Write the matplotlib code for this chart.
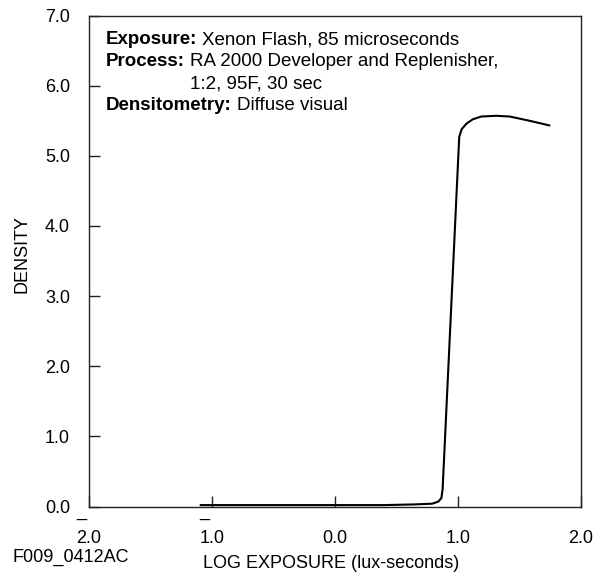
import matplotlib
matplotlib.use("Agg")
import matplotlib.pyplot as plt

# ---- data ----
log_exposure = [-1.10, -0.50, 0.00, 0.40, 0.65, 0.79, 0.84, 0.865, 0.875,
                1.01, 1.03, 1.07, 1.12, 1.19, 1.31, 1.42, 1.58, 1.75]
density = [0.02, 0.02, 0.02, 0.02, 0.03, 0.04, 0.07, 0.12, 0.25,
           5.27, 5.38, 5.46, 5.52, 5.56, 5.57, 5.56, 5.50, 5.43]

x_tick_values = [-2, -1, 0, 1, 2]
x_tick_labels = ["2.0", "1.0", "0.0", "1.0", "2.0"]
x_tick_negative = [True, True, False, False, False]
y_tick_values = [0, 1, 2, 3, 4, 5, 6, 7]
y_tick_labels = ["0.0", "1.0", "2.0", "3.0", "4.0", "5.0", "6.0", "7.0"]

info_keys = ["Exposure:", "Process:", "", "Densitometry:"]
info_values = ["Xenon Flash, 85 microseconds",
               "RA 2000 Developer and Replenisher,",
               "1:2, 95F, 30 sec",
               "Diffuse visual"]

x_label = "LOG EXPOSURE (lux-seconds)"
y_label = "DENSITY"
figure_id = "F009_0412AC"

# ---- style ----
plt.rcParams["font.family"] = ["Liberation Sans", "DejaVu Sans"]
FS = 13
FS_INFO = 13.5
W, H = 605, 576
DPI = 100

fig = plt.figure(figsize=(W / DPI, H / DPI), dpi=DPI)
L, R, T, B = 89, 581, 15.5, 506.5
ax = fig.add_axes([L / W, 1 - B / H, (R - L) / W, (B - T) / H])

ax.plot(log_exposure, density, color="black", lw=1.5, solid_capstyle="butt")
ax.set_xlim(-2, 2)
ax.set_ylim(0, 7)

for s in ax.spines.values():
    s.set_color("#222222")
    s.set_linewidth(1.0)

ax.set_xticks(x_tick_values)
ax.set_xticklabels([("_" if neg else " ") + "\n" + lab
                    for lab, neg in zip(x_tick_labels, x_tick_negative)],
                   multialignment="left", linespacing=1.8)
ax.set_yticks(y_tick_values)
ax.set_yticklabels(y_tick_labels)
ax.tick_params(axis="both", direction="in", length=8, width=1.0,
               color="#222222", labelsize=FS)
ax.tick_params(axis="y", pad=13.7)
ax.tick_params(axis="x", pad=-2.5)

# axis titles
fig.text(331 / W, 1 - 563.5 / H, x_label, ha="center", va="center", fontsize=FS)
fig.text(21.5 / W, 1 - 254 / H, y_label, ha="center", va="center",
         rotation=90, fontsize=FS)
fig.text(71 / W, 1 - 557 / H, figure_id, ha="center", va="center", fontsize=FS)

# info block
fig.canvas.draw()
renderer = fig.canvas.get_renderer()
x0 = 106
baselines = [44.5, 66.5, 88.5, 110.5]
value_x = None
for key, val, yb in zip(info_keys, info_values, baselines):
    yfrac = 1 - yb / H
    if key:
        t = fig.text(x0 / W, yfrac, key, fontsize=FS_INFO, fontweight="bold",
                     ha="left", va="baseline")
        bb = t.get_window_extent(renderer)
        vx = bb.x1 + 5
        if key == "Process:":
            value_x = vx
    else:
        vx = value_x
    fig.text(vx / W, yfrac, val, fontsize=FS_INFO, ha="left", va="baseline")

fig.savefig("out.png", dpi=DPI)
